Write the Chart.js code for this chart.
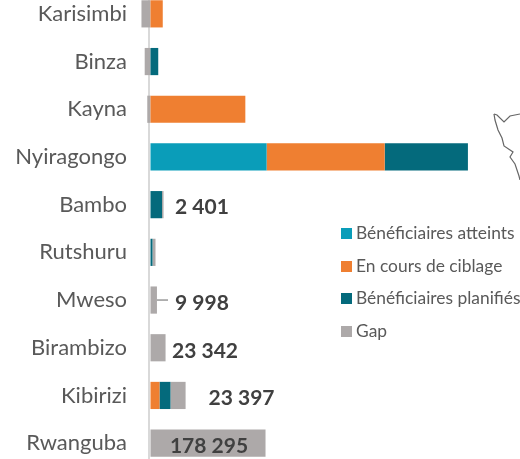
<!DOCTYPE html>
<html><head><meta charset="utf-8">
<style>
html,body{margin:0;padding:0;background:#fff;overflow:hidden;width:520px;height:459px}
#wrap{position:absolute;left:0;top:-10px;width:520px;height:477px}
#legend{position:absolute;left:341px;top:223px;font:17.4px Lato,sans-serif;color:#595959;white-space:nowrap}
#legend div{height:32.6px;line-height:20px;display:flex;align-items:flex-start}
#legend i{display:inline-block;width:11px;height:11px;margin:5px 4px 0 0;flex:none}
#map{position:absolute;left:480px;top:105px}
</style></head><body>
<div id="wrap"><canvas id="c" width="520" height="477"></canvas></div>
<div id="legend"></div>
<svg id="map" width="40" height="75"><polyline fill="none" stroke="#666" stroke-width="1.2" points="14,9 17,10 24,17 30,11 40,9"/><polyline fill="none" stroke="#666" stroke-width="1.2" points="14,9 15,15 18,25 22,33 24,41 33,47 30,52 35,59 39,71 40,75"/></svg>
<script src="https://cdn.jsdelivr.net/npm/chart.js@4"></script>
<script>
const categories=["Karisimbi","Binza","Kayna","Nyiragongo","Bambo","Rutshuru","Mweso","Birambizo","Kibirizi","Rwanguba"];
const atteints=[0,0,0,180000,0,0,0,0,0,0];
const ciblage=[19000,0,147000,183000,0,0,0,0,14000,0];
const planifies=[0,12000,0,129000,17800,3100,0,0,17000,0];
const gap=[-14000,-9000,-5000,0,2401,4650,9998,23342,23397,178295];
const gapLabels=[null,null,null,null,"2 401",null,"9 998","23 342","23 397","178 295"];
const labelCenters=[0,0,0,0,202,0,202,205,241.5,209];
const colors=["#0A9DB9","#EF7F31","#046A7C","#ADA9A9"];
const names=["Bénéficiaires atteints","En cours de ciblage","Bénéficiaires planifiés","Gap"];
const series=[atteints,ciblage,planifies,gap];

const labelPlugin={id:"gapLabels",afterDatasetsDraw(chart){
  const {ctx,scales:{x,y}}=chart;
  ctx.save();
  ctx.font="bold 21px Lato,sans-serif";ctx.fillStyle="#404040";ctx.textAlign="center";ctx.textBaseline="middle";
  gapLabels.forEach((t,i)=>{ if(t) ctx.fillText(t,labelCenters[i],y.getPixelForValue(i)+3); });
  const m=categories.indexOf("Mweso"),py=y.getPixelForValue(m);
  ctx.strokeStyle="#999";ctx.lineWidth=1.5;ctx.beginPath();ctx.moveTo(x.getPixelForValue(gap[m]),py);ctx.lineTo(168,py);ctx.stroke();
  ctx.restore();
}};

new Chart(document.getElementById("c"),{
  type:"bar",
  data:{labels:categories,datasets:series.map((d,i)=>({label:names[i],data:d,backgroundColor:colors[i],barPercentage:1,categoryPercentage:0.57}))},
  options:{indexAxis:"y",responsive:false,animation:false,
    layout:{padding:0},
    plugins:{legend:{display:false},tooltip:{enabled:false}},
    scales:{
      x:{stacked:true,display:true,min:-16275,max:572725,border:{display:false},ticks:{display:false},
         grid:{drawTicks:false,lineWidth:2,color:c=>c.tick?"#D9D9D9":"rgba(0,0,0,0)"},afterBuildTicks(a){a.ticks=[{value:-1860}];},afterFit(a){a.height=0;a.paddingLeft=0;a.paddingRight=0;}},
      y:{stacked:true,border:{display:false},grid:{display:false,drawTicks:false},
         ticks:{padding:13,font:{family:"Lato",size:22},color:"#595959",crossAlign:"near"},
         afterFit(a){a.width=140;a.paddingTop=0;a.paddingBottom=0;}}
    }
  },
  plugins:[labelPlugin]
});
document.getElementById("legend").innerHTML=names.map((n,i)=>`<div><i style="background:${colors[i]}"></i><span>${n}</span></div>`).join("");
</script>
</body></html>
